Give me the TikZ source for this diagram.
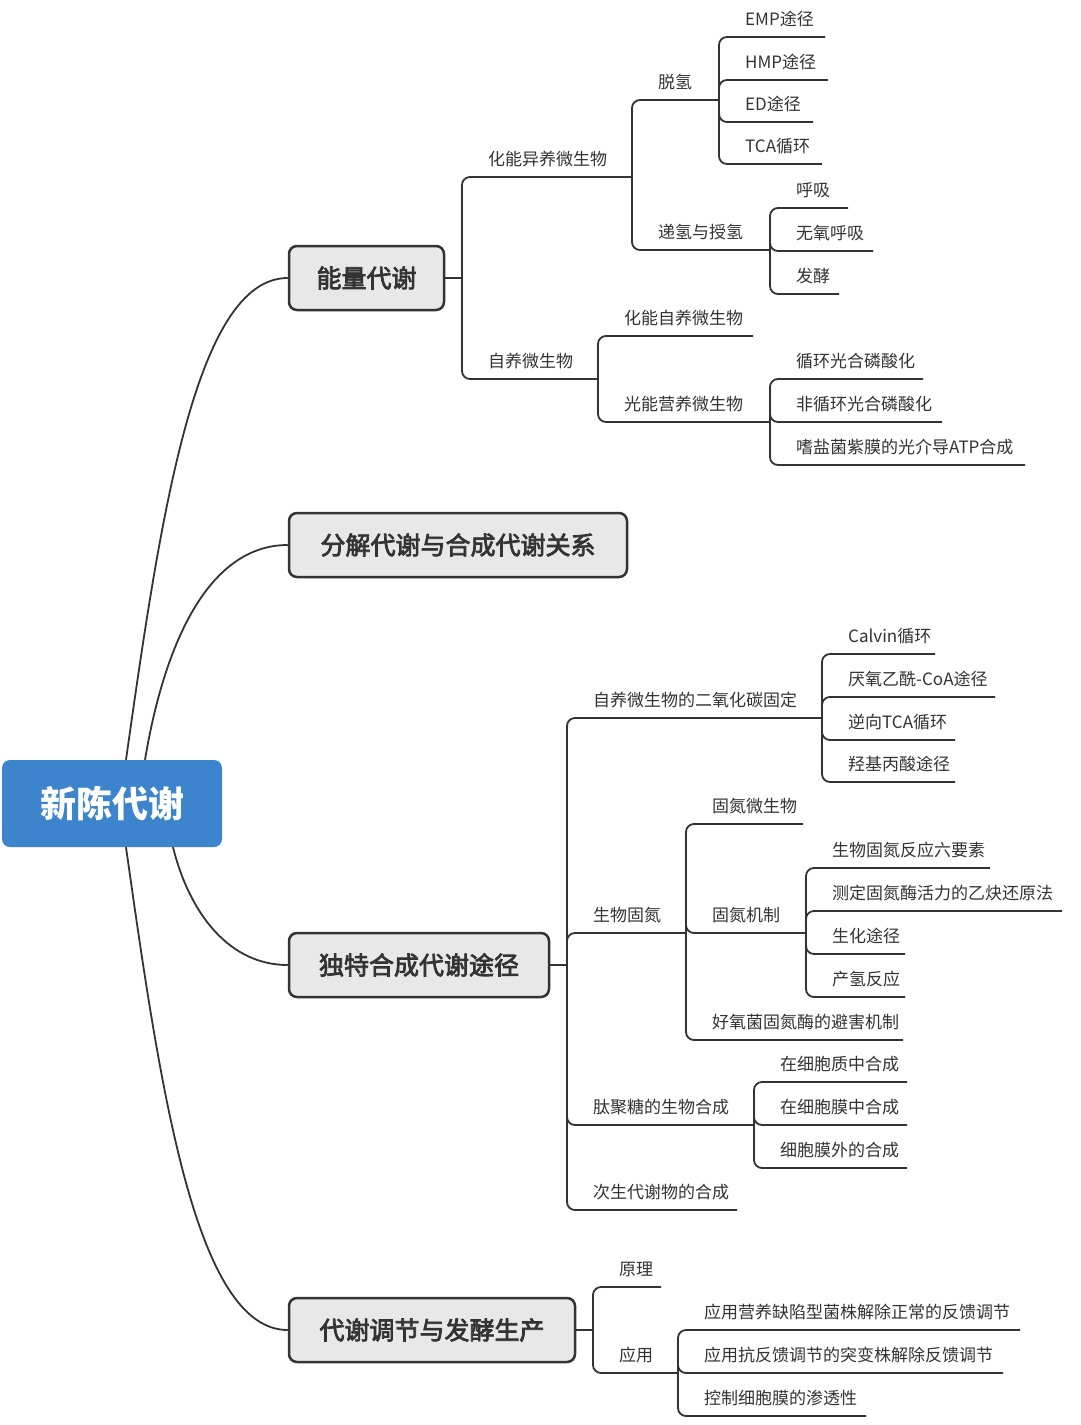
\documentclass[tikz,border=0pt]{standalone}
\usepackage{fontspec}
\setmainfont{Noto Sans CJK SC}
\newfontfamily\topicfont[FakeBold=3]{Noto Sans CJK SC}
\usepackage{tikz}

\definecolor{rootblue}{HTML}{3C84CC}
\definecolor{boxfill}{HTML}{E8E8E8}
\definecolor{ink}{HTML}{333333}

\tikzset{
  link/.style={draw=ink, line width=1.8pt, rounded corners=8pt},
  topic/.style={draw=ink, fill=boxfill, line width=2.5pt, rounded corners=8pt,
    minimum height=64pt, text=ink, font=\fontsize{25}{30}\topicfont},
  item/.style={anchor=west, inner sep=0pt, text=ink, font=\fontsize{17}{20}\selectfont},
}

\begin{document}
\begin{tikzpicture}[x=1pt, y=-1pt]
  \useasboundingbox[fill=white] (0,0) rectangle (1080,1425);

  \node[fill=rootblue, rounded corners=8pt, minimum width=220pt, minimum height=87pt,
    text=white, font=\fontsize{36}{42}\selectfont\bfseries] (root) at (112,803.5) {新陈代谢};
  \node[topic, minimum width=155pt] (energy) at (366.5,278) {能量代谢};
  \node[topic, minimum width=338pt] (relation) at (458,545) {分解代谢与合成代谢关系};
  \node[topic, minimum width=260pt] (synth) at (419,965) {独特合成代谢途径};
  \node[topic, minimum width=286pt] (regul) at (432,1330) {代谢调节与发酵生产};

  \draw[link] ([xshift=14pt]root.north) .. controls (160,520) and (195,278) .. (energy.west);
  \draw[link] ([xshift=33pt]root.north) .. controls (165,640) and (210,545) .. (relation.west);
  \draw[link] ([xshift=61pt]root.south) .. controls (190,915) and (230,965) .. (synth.west);
  \draw[link] ([xshift=14pt]root.south) .. controls (160,1087) and (195,1330) .. (regul.west);

  % energy
  \coordinate (energy-j) at (462,278);
  \node[item] (chemo) at (488,159) {化能异养微生物};
  \coordinate (chemo-e) at (632,177);
  \node[item] (auto) at (488,361) {自养微生物};
  \coordinate (auto-e) at (598,379);
  \node[item] (dehyd) at (658,82) {脱氢};
  \coordinate (dehyd-e) at (719,100);
  \node[item] (trans) at (658,232) {递氢与授氢};
  \coordinate (trans-e) at (770,250);
  \node[item] (emp) at (745,19) {EMP途径};
  \coordinate (emp-e) at (825,37);
  \node[item] (hmp) at (745,62) {HMP途径};
  \coordinate (hmp-e) at (828,80);
  \node[item] (ed) at (745,104) {ED途径};
  \coordinate (ed-e) at (813,122);
  \node[item] (tca) at (745,146) {TCA循环};
  \coordinate (tca-e) at (822,164);
  \node[item] (resp) at (796,190) {呼吸};
  \coordinate (resp-e) at (848,208);
  \node[item] (anaer) at (796,233) {无氧呼吸};
  \coordinate (anaer-e) at (873,251);
  \node[item] (ferm) at (796,276) {发酵};
  \coordinate (ferm-e) at (839,294);
  \node[item] (chemoauto) at (624,318) {化能自养微生物};
  \coordinate (chemoauto-e) at (753,336);
  \node[item] (photo) at (624,404) {光能营养微生物};
  \coordinate (photo-e) at (770,422);
  \node[item] (cyc) at (796,361) {循环光合磷酸化};
  \coordinate (cyc-e) at (923,379);
  \node[item] (noncyc) at (796,404) {非循环光合磷酸化};
  \coordinate (noncyc-e) at (942,422);
  \node[item] (halo) at (796,447) {嗜盐菌紫膜的光介导ATP合成};
  \coordinate (halo-e) at (1025,465);

  \draw[link] (energy.east) -- (energy-j);
  \draw[link] (energy-j) |- (chemo-e);
  \draw[link] (energy-j) |- (auto-e);
  \draw[link] (chemo-e) |- (dehyd-e);
  \draw[link] (chemo-e) |- (trans-e);
  \foreach \n in {emp,hmp,ed,tca}
    \draw[link] (dehyd-e) |- (\n-e);
  \foreach \n in {resp,anaer,ferm}
    \draw[link] (trans-e) |- (\n-e);
  \draw[link] (auto-e) |- (chemoauto-e);
  \draw[link] (auto-e) |- (photo-e);
  \foreach \n in {cyc,noncyc,halo}
    \draw[link] (photo-e) |- (\n-e);

  % synthesis
  \coordinate (synth-j) at (567,965);
  \node[item] (co2) at (593,700) {自养微生物的二氧化碳固定};
  \coordinate (co2-e) at (822,718);
  \node[item] (nfix) at (593,915) {生物固氮};
  \coordinate (nfix-e) at (686,933);
  \node[item] (pg) at (593,1107) {肽聚糖的生物合成};
  \coordinate (pg-e) at (754,1125);
  \node[item] (sec) at (593,1192) {次生代谢物的合成};
  \coordinate (sec-e) at (737,1210);
  \node[item] (calvin) at (848,636) {Calvin循环};
  \coordinate (calvin-e) at (935,654);
  \node[item] (acoa) at (848,679) {厌氧乙酰-CoA途径};
  \coordinate (acoa-e) at (995,697);
  \node[item] (rtca) at (848,722) {逆向TCA循环};
  \coordinate (rtca-e) at (955,740);
  \node[item] (hp) at (848,764) {羟基丙酸途径};
  \coordinate (hp-e) at (955,782);
  \node[item] (nfixorg) at (712,806) {固氮微生物};
  \coordinate (nfixorg-e) at (803,824);
  \node[item] (nmech) at (712,915) {固氮机制};
  \coordinate (nmech-e) at (806,933);
  \node[item] (aerob) at (712,1022) {好氧菌固氮酶的避害机制};
  \coordinate (aerob-e) at (903,1040);
  \node[item] (six) at (832,850) {生物固氮反应六要素};
  \coordinate (six-e) at (990,868);
  \node[item] (c2h2) at (832,893) {测定固氮酶活力的乙炔还原法};
  \coordinate (c2h2-e) at (1062,911);
  \node[item] (bioch) at (832,936) {生化途径};
  \coordinate (bioch-e) at (905,954);
  \node[item] (h2) at (832,979) {产氢反应};
  \coordinate (h2-e) at (905,997);
  \node[item] (cyto) at (780,1064) {在细胞质中合成};
  \coordinate (cyto-e) at (907,1082);
  \node[item] (memb) at (780,1107) {在细胞膜中合成};
  \coordinate (memb-e) at (907,1125);
  \node[item] (outer) at (780,1150) {细胞膜外的合成};
  \coordinate (outer-e) at (907,1168);

  \draw[link] (synth.east) -- (synth-j);
  \foreach \n in {co2,nfix,pg,sec}
    \draw[link] (synth-j) |- (\n-e);
  \foreach \n in {calvin,acoa,rtca,hp}
    \draw[link] (co2-e) |- (\n-e);
  \foreach \n in {nfixorg,nmech,aerob}
    \draw[link] (nfix-e) |- (\n-e);
  \foreach \n in {six,c2h2,bioch,h2}
    \draw[link] (nmech-e) |- (\n-e);
  \foreach \n in {cyto,memb,outer}
    \draw[link] (pg-e) |- (\n-e);

  % regulation
  \coordinate (regul-j) at (593,1330);
  \node[item] (princ) at (619,1269) {原理};
  \coordinate (princ-e) at (661,1287);
  \node[item] (appl) at (619,1355) {应用};
  \coordinate (appl-e) at (678,1373);
  \node[item] (aux) at (704,1312) {应用营养缺陷型菌株解除正常的反馈调节};
  \coordinate (aux-e) at (1020,1330);
  \node[item] (anti) at (704,1355) {应用抗反馈调节的突变株解除反馈调节};
  \coordinate (anti-e) at (1003,1373);
  \node[item] (perm) at (704,1398) {控制细胞膜的渗透性};
  \coordinate (perm-e) at (866,1416);

  \draw[link] (regul.east) -- (regul-j);
  \draw[link] (regul-j) |- (princ-e);
  \draw[link] (regul-j) |- (appl-e);
  \foreach \n in {aux,anti,perm}
    \draw[link] (appl-e) |- (\n-e);
\end{tikzpicture}
\end{document}
